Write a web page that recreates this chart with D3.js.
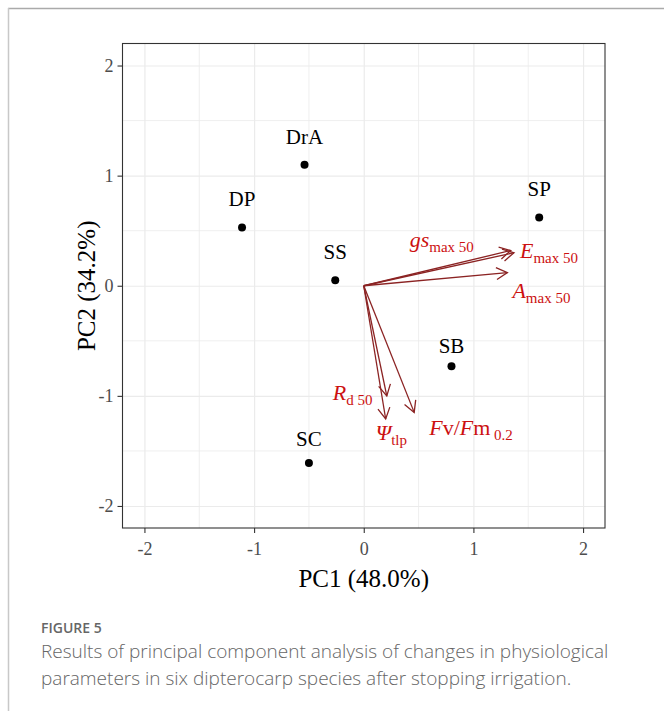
<!DOCTYPE html>
<html>
<head>
<meta charset="utf-8">
<script src="https://cdn.jsdelivr.net/npm/d3@7"></script>
<style>
  html, body { margin: 0; padding: 0; background: #fff; }
  svg { display: block; }
</style>
</head>
<body>
<svg id="container" width="664" height="711"></svg>
<script>
// species scores
const species = ["DrA", "DP", "SP", "SS", "SB", "SC"];
const pc1 = [-0.54, -1.11, 1.60, -0.26, 0.80, -0.50];
const pc2 = [1.10, 0.53, 0.62, 0.05, -0.73, -1.61];

// variable loadings (arrows)
const vars = ["gs", "E", "A", "Rd", "Psi", "FvFm"];
const loadX = [1.34, 1.37, 1.31, 0.21, 0.20, 0.46];
const loadY = [0.32, 0.30, 0.12, -1.00, -1.21, -1.15];
const varLabels = [
    [{ t: "gs", i: true }, { t: "max 50", sub: true }],
    [{ t: "E", i: true }, { t: "max 50", sub: true }],
    [{ t: "A", i: true }, { t: "max 50", sub: true }],
    [{ t: "R", i: true }, { t: "d 50", sub: true }],
    [{ t: "\u03A8", i: true }, { t: "tlp", sub: true }],
    [{ t: "F", i: true }, { t: "v/" }, { t: "F", i: true }, { t: "m" }, { t: " 0.2", sub: true }]
];

const ticks = [-2, -1, 0, 1, 2];
const xTitle = "PC1 (48.0%)";
const yTitle = "PC2 (34.2%)";
const figLabel = "FIGURE 5";
const caption = [
    "Results of principal component analysis of changes in physiological",
    "parameters in six dipterocarp species after stopping irrigation."
];

const svg = d3.select('#container');
const serif = '"Liberation Serif", "Times New Roman", serif';
const sans = '"Open Sans", "Noto Sans", sans-serif';

// outer frame (top & left only visible)
svg.append("line").attr("x1", 8).attr("y1", 8.5).attr("x2", 664).attr("y2", 8.5)
    .attr("stroke", "#aaa").attr("stroke-width", 1.5);
svg.append("line").attr("x1", 8.5).attr("y1", 8).attr("x2", 8.5).attr("y2", 711)
    .attr("stroke", "#c8c8c8").attr("stroke-width", 1.5);

const panel = { left: 122.5, right: 605, top: 43.5, bottom: 528 };

const x = d3.scaleLinear().domain([-2.2, 2.2]).range([panel.left, panel.right]);
const y = d3.scaleLinear().domain([-2.2, 2.2]).range([panel.bottom, panel.top]);

// grid
const minor = d3.range(-1.5, 2, 1);
const g = svg.append("g");
g.selectAll(".vminor").data(minor).join("line")
    .attr("x1", d => x(d)).attr("x2", d => x(d))
    .attr("y1", panel.top).attr("y2", panel.bottom)
    .attr("stroke", "#ebebeb").attr("stroke-width", 0.8);
g.selectAll(".hminor").data(minor).join("line")
    .attr("y1", d => y(d)).attr("y2", d => y(d))
    .attr("x1", panel.left).attr("x2", panel.right)
    .attr("stroke", "#ebebeb").attr("stroke-width", 0.8);

svg.append('g')
    .attr('transform', 'translate(0,' + panel.bottom + ')')
    .call(d3.axisBottom(x).tickValues(ticks).tickSize(-(panel.bottom - panel.top)).tickFormat(""))
    .call(s => s.select(".domain").remove())
    .call(s => s.selectAll(".tick line").attr("stroke", "#ebebeb").attr("stroke-width", 1.2));
svg.append('g')
    .attr('transform', 'translate(' + panel.left + ',0)')
    .call(d3.axisLeft(y).tickValues(ticks).tickSize(-(panel.right - panel.left)).tickFormat(""))
    .call(s => s.select(".domain").remove())
    .call(s => s.selectAll(".tick line").attr("stroke", "#ebebeb").attr("stroke-width", 1.2));

// panel border
svg.append("rect")
    .attr("x", panel.left).attr("y", panel.top)
    .attr("width", panel.right - panel.left).attr("height", panel.bottom - panel.top)
    .attr("fill", "none").attr("stroke", "#333").attr("stroke-width", 1.1);

// axes ticks + labels (plain hyphen for negatives, like the original)
const fmt = d => String(d);
const xAxis = svg.append('g')
    .attr('transform', 'translate(0,' + panel.bottom + ')')
    .call(d3.axisBottom(x).tickValues(ticks).tickSize(5).tickPadding(9).tickFormat(fmt));
xAxis.select(".domain").remove();
xAxis.selectAll(".tick line").attr("stroke", "#333").attr("stroke-width", 1.1);
xAxis.selectAll(".tick text").attr("fill", "#4d4d4d")
    .style("font-family", serif).style("font-size", "18px");

const yAxis = svg.append('g')
    .attr('transform', 'translate(' + panel.left + ',0)')
    .call(d3.axisLeft(y).tickValues(ticks).tickSize(5).tickPadding(4).tickFormat(fmt));
yAxis.select(".domain").remove();
yAxis.selectAll(".tick line").attr("stroke", "#333").attr("stroke-width", 1.1);
yAxis.selectAll(".tick text").attr("fill", "#4d4d4d")
    .style("font-family", serif).style("font-size", "18px");

// axis titles
svg.append("text")
    .attr("x", (panel.left + panel.right) / 2).attr("y", 587)
    .attr("text-anchor", "middle")
    .style("font-family", serif).style("font-size", "25px").attr("fill", "#000")
    .text(xTitle);
svg.append("text")
    .attr("transform", "translate(95," + (panel.top + panel.bottom) / 2 + ") rotate(-90)")
    .attr("text-anchor", "middle")
    .style("font-family", serif).style("font-size", "25px").attr("fill", "#000")
    .text(yTitle);

// arrows
const arrowCol = "#8b2323";
const defs = svg.append("defs");
defs.append("marker")
    .attr("id", "head")
    .attr("viewBox", "-14 -8 16 16")
    .attr("markerWidth", 16).attr("markerHeight", 16)
    .attr("markerUnits", "userSpaceOnUse")
    .attr("refX", 0).attr("refY", 0)
    .attr("orient", "auto")
    .append("path")
    .attr("d", "M-11,-6 L0,0 L-11,6")
    .attr("fill", "none").attr("stroke", arrowCol).attr("stroke-width", 1.3);

svg.append("g").selectAll("line").data(vars).join("line")
    .attr("x1", x(0)).attr("y1", y(0))
    .attr("x2", (d, i) => x(loadX[i])).attr("y2", (d, i) => y(loadY[i]))
    .attr("stroke", arrowCol).attr("stroke-width", 1.3)
    .attr("marker-end", "url(#head)");

// arrow labels (pixel offsets from arrow tip)
const labOff = [[-101, -4], [6, 5], [5, 25], [-54, 4], [-10, 21], [15, 23]];
const labCol = "#cc1010";
const lg = svg.append("g");
vars.forEach((v, i) => {
    const t = lg.append("text")
        .attr("x", x(loadX[i]) + labOff[i][0])
        .attr("y", y(loadY[i]) + labOff[i][1])
        .style("font-family", serif).attr("fill", labCol);
    varLabels[i].forEach((p, k) => {
        const s = t.append("tspan").text(p.t);
        if (p.i) s.style("font-style", "italic");
        if (p.sub) {
            s.style("font-size", "15px").attr("dy", 5);
        } else {
            s.style("font-size", "22px");
            const prev = varLabels[i][k - 1];
            if (prev && prev.sub) s.attr("dy", -5);
        }
    });
});

// species points
const labelNudge = [-21, -21, -21, -21, -13, -17];
svg.append("g").selectAll("circle").data(species).join("circle")
    .attr("cx", (d, i) => x(pc1[i])).attr("cy", (d, i) => y(pc2[i]))
    .attr("r", 4).attr("fill", "#000");
svg.append("g").selectAll("text").data(species).join("text")
    .attr("x", (d, i) => x(pc1[i])).attr("y", (d, i) => y(pc2[i]) + labelNudge[i])
    .attr("text-anchor", "middle")
    .style("font-family", serif).style("font-size", "21px").attr("fill", "#000")
    .text(d => d);

// caption
svg.append("text")
    .attr("x", 41).attr("y", 633)
    .style("font-family", sans).style("font-size", "14px").style("font-weight", 600)
    .attr("fill", "#666")
    .text(figLabel);
svg.append("g").selectAll("text").data(caption).join("text")
    .attr("x", 41).attr("y", (d, i) => 658 + i * 26.5)
    .style("font-family", sans).style("font-size", "19px").style("font-weight", 300)
    .attr("fill", "#666")
    .text(d => d);
</script>
</body>
</html>
